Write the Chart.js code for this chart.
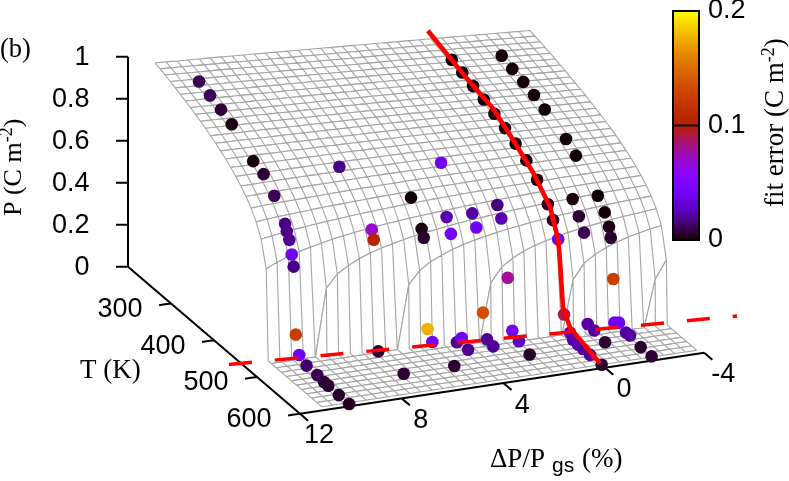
<!DOCTYPE html>
<html>
<head>
<meta charset="utf-8">
<title>P(T, strain) surface</title>
<script src="https://cdn.jsdelivr.net/npm/chart.js@4"></script>
<style>
  html, body { margin: 0; padding: 0; background: #fff; }
  #wrap { position: relative; width: 789px; height: 481px; overflow: hidden; }
  canvas { position: absolute; }
</style>
</head>
<body>
<div id="wrap">
  <canvas id="myChart" width="789" height="481" style="left:0;top:0"></canvas>
  <canvas id="barChart" width="117" height="262" style="left:672px;top:0"></canvas>
</div>
<script>
// fitted surface: one row per temperature, one value per strain
let sheetStrain = [11,10.57,10.13,9.7,9.26,8.83,8.4,7.96,7.53,7.1,6.66,6.23,5.79,5.36,4.93,4.49,4.06,3.63,3.19,2.76,2.32,1.89,1.46,1.02,.59,.16,-.28,-.71,-1.15,-1.58,-2.01,-2.45,-2.88,-3.31,-3.75]
let sheetTemp = [203.75,215.5,227.25,239,250.75,262.5,274.25,286,297.75,309.5,321.25,333,344.75,356.5,368.25,380,391.75,403.5,415.25,427,438.75,450.5,462.25,474,485.75,497.5,509.25,521,532.75,544.5,556.25,568,579.75,591.5]
// temperature where each strain line drops to the floor
let criticalT = [467,468.6,470.3,471.9,473.6,475.2,476.9,478.5,480.2,481.8,483.5,485.1,486.8,488.4,490.1,491.7,493.4,495,496.7,498.3,500,501.6,503.3,504.9,506.6,508.2,509.9,511.5,513.1,514.8,516.4,518.1,519.7,521.4,523]
// rows past the end of this table lie flat on the floor
let sheetP = [
[.959,.956,.952,.949,.946,.943,.940,.936,.933,.930,.926,.923,.920,.916,.913,.910,.906,.903,.900,.896,.893,.889,.886,.883,.879,.876,.872,.869,.865,.862,.858,.855,.851,.848,.844],
[.951,.948,.945,.942,.938,.935,.932,.929,.925,.922,.919,.915,.912,.909,.905,.902,.899,.896,.892,.889,.886,.882,.879,.876,.872,.869,.865,.862,.858,.855,.852,.848,.845,.841,.838],
[.942,.939,.936,.933,.930,.927,.924,.920,.917,.914,.911,.908,.904,.901,.898,.895,.892,.888,.885,.882,.879,.876,.872,.869,.866,.862,.859,.856,.852,.849,.846,.842,.839,.835,.832],
[.932,.929,.926,.923,.920,.917,.914,.911,.908,.905,.902,.899,.896,.892,.889,.886,.883,.880,.877,.874,.871,.868,.864,.861,.858,.855,.852,.849,.845,.842,.839,.835,.832,.828,.825],
[.922,.919,.916,.913,.910,.908,.905,.902,.899,.896,.893,.890,.887,.884,.881,.878,.875,.872,.869,.866,.863,.860,.857,.854,.851,.847,.844,.841,.838,.835,.831,.828,.825,.821,.818],
[.912,.909,.906,.903,.901,.898,.895,.892,.889,.886,.883,.880,.878,.875,.872,.869,.866,.863,.860,.857,.854,.851,.848,.845,.842,.839,.836,.833,.830,.827,.824,.821,.818,.814,.811],
[.901,.898,.896,.893,.890,.888,.885,.882,.879,.877,.874,.871,.868,.865,.863,.860,.857,.854,.851,.848,.845,.842,.840,.836,.834,.831,.828,.825,.822,.819,.815,.812,.809,.806,.803],
[.890,.887,.885,.882,.880,.877,.875,.872,.869,.867,.864,.861,.859,.856,.853,.851,.848,.845,.842,.839,.837,.834,.831,.828,.825,.822,.820,.817,.814,.811,.808,.805,.802,.799,.796],
[.878,.876,.873,.871,.868,.866,.863,.861,.858,.856,.853,.851,.848,.846,.843,.840,.838,.835,.832,.830,.827,.824,.821,.819,.816,.813,.810,.807,.805,.802,.799,.796,.793,.790,.787],
[.866,.864,.861,.859,.857,.855,.852,.850,.847,.845,.843,.840,.838,.835,.833,.830,.828,.825,.822,.820,.817,.815,.812,.809,.807,.804,.801,.799,.796,.793,.790,.787,.785,.782,.779],
[.853,.851,.849,.846,.844,.842,.840,.838,.835,.833,.831,.828,.826,.824,.821,.819,.816,.814,.812,.809,.807,.804,.802,.799,.797,.794,.791,.789,.786,.784,.781,.778,.775,.773,.770],
[.838,.836,.834,.832,.830,.829,.826,.824,.822,.820,.818,.816,.814,.812,.810,.808,.805,.803,.801,.798,.796,.794,.791,.789,.787,.784,.782,.779,.777,.774,.772,.769,.766,.764,.761],
[.823,.821,.820,.818,.816,.814,.813,.811,.809,.807,.805,.803,.801,.799,.797,.795,.793,.791,.789,.787,.785,.782,.780,.778,.776,.773,.771,.768,.766,.764,.761,.759,.756,.754,.751],
[.807,.806,.804,.803,.801,.799,.798,.796,.794,.793,.791,.789,.787,.786,.784,.782,.780,.778,.776,.774,.772,.770,.768,.766,.764,.762,.759,.757,.755,.753,.751,.748,.746,.743,.741],
[.789,.788,.787,.786,.784,.783,.782,.780,.779,.778,.776,.775,.773,.772,.770,.768,.767,.765,.763,.761,.760,.758,.756,.754,.752,.750,.748,.746,.744,.742,.739,.737,.735,.732,.730],
[.769,.768,.768,.767,.766,.765,.764,.763,.762,.761,.760,.759,.757,.756,.755,.753,.752,.750,.748,.747,.745,.743,.742,.740,.739,.737,.735,.733,.731,.729,.727,.725,.723,.721,.719],
[.747,.747,.746,.746,.745,.745,.744,.744,.743,.742,.741,.740,.739,.738,.737,.736,.735,.734,.733,.731,.730,.728,.727,.725,.724,.722,.721,.719,.718,.716,.714,.712,.711,.709,.707],
[.722,.722,.723,.723,.723,.723,.723,.722,.722,.722,.721,.721,.720,.719,.718,.718,.717,.716,.715,.714,.713,.712,.711,.710,.708,.707,.706,.705,.703,.702,.700,.699,.697,.696,.694],
[.693,.694,.695,.696,.697,.697,.698,.698,.698,.698,.699,.699,.699,.699,.698,.698,.697,.697,.696,.696,.695,.694,.693,.692,.692,.691,.690,.689,.687,.686,.685,.683,.682,.680,.679],
[.658,.661,.663,.665,.666,.667,.668,.670,.671,.672,.673,.673,.674,.674,.675,.675,.675,.675,.675,.675,.674,.674,.674,.673,.673,.672,.671,.671,.670,.669,.668,.667,.666,.665,.664],
[.614,.618,.622,.625,.628,.631,.634,.636,.638,.640,.642,.644,.645,.646,.647,.648,.649,.650,.650,.651,.651,.652,.652,.652,.652,.652,.652,.651,.651,.650,.650,.649,.648,.648,.647],
[.551,.559,.567,.573,.579,.584,.589,.593,.597,.601,.604,.607,.610,.613,.615,.617,.619,.620,.622,.623,.624,.625,.626,.627,.627,.628,.628,.629,.629,.629,.629,.629,.629,.628,.628],
[.430,.454,.473,.489,.502,.513,.524,.532,.540,.547,.553,.559,.564,.569,.573,.576,.580,.583,.586,.589,.591,.593,.595,.597,.599,.600,.601,.602,.603,.604,.604,.605,.605,.606,.606],
[0,0,0,0,0,.319,.379,.411,.437,.455,.471,.483,.495,.505,.514,.520,.528,.534,.540,.544,.549,.553,.557,.560,.563,.565,.568,.570,.572,.574,.576,.577,.578,.579,.580],
[0,0,0,0,0,0,0,0,0,0,0,0,.300,.360,.395,.418,.438,.453,.466,.477,.486,.495,.502,.509,.515,.520,.525,.529,.532,.536,.540,.543,.545,.547,.549],
[0,0,0,0,0,0,0,0,0,0,0,0,0,0,0,0,0,0,0,.275,.343,.377,.403,.421,.436,.448,.459,.468,.476,.483,.490,.496,.500,.505,.509],
[0,0,0,0,0,0,0,0,0,0,0,0,0,0,0,0,0,0,0,0,0,0,0,0,0,0,.255,.325,.360,.385,.403,.419,.430,.441,.450],
[0,0,0,0,0,0,0,0,0,0,0,0,0,0,0,0,0,0,0,0,0,0,0,0,0,0,0,0,0,0,0,0,0,.223,.306]
]

// measured points
let dotStrain = [10,10,10,10,10,10,10,10,10,10,10,10,10,10,10,10,10,10,10,10,
  0,0,0,0,0,0,0,0,0,0,0,0,0,0,0,0,0,0,0,
  -2,-2,-2,-2,-2,-2,-2,-2,-2,-2,-2,-2,-2,-2,-2,-2,-2,-2,
  -1,-1,-1,-1,-1,-1,
  7,7,7,7,7, 5,5,5,5,5,5, 4,4,4,4,4, 3,3,3,3,3,3, 2,2,2,2,2,2]
let dotTemp = [247,272.5,298,323,373,397,422,447,451,457,462.5,467,472,480,497,522,537.6,547.6,572,596,
  243.5,268,293,318,342.6,367.4,392,417,442,467,479,491,504.7,518.6,525.6,537,549,565,592,
  241.4,266,291.6,316.5,341.4,391,414,465,481,491,495,501,503.7,514.2,530.5,540,564.7,590,
  465.6,480,492,500.5,515.8,541,
  396,471.2,475.8,486.5,545.6, 444.4,469,474,483,494,545, 468,478,492,503,518, 396,468.6,478,493.5,503,517.4, 467.7,477,492,502.6,518,543]
let dotP = [.928,.906,.883,.857,.769,.749,.69,.6,.571,.541,.481,.431,.116,.033,.012,.011,.005,.005,.003,.003,
  .843,.825,.804,.784,.759,.734,.703,.667,.619,.546,.491,.421,.087,.024,.003,0,0,0,0,
  .822,.802,.785,.766,.741,.687,.648,.546,.495,.444,.399,.213,.01,.028,.009,.012,0,0,
  .55,.493,.436,.016,.012,0,
  .728,.56,.52,.007,.004, .629,.523,.49,.071,.028,.003, .56,.497,.005,.045,.015, .674,.56,.509,.131,.02,.012, .58,.532,.276,.042,.019,0]
let dotErr = [.011,.011,.007,.002,.002,.006,.011,.017,.018,.019,.04,.017,.124,.04,.014,.011,.006,.006,.005,.004,
  .001,.001,.001,.001,.002,.002,.002,.002,.002,.005,.005,.035,.09,.03,.025,.025,.02,.02,.006,
  .001,.001,.001,.001,.001,.001,.001,.001,.001,.003,.006,.124,.04,.04,.022,.022,.006,.006,
  .002,.006,.011,.022,.022,.006,
  .017,.07,.104,.006,.006, .001,.002,.005,.177,.04,.006, .025,.04,.018,.04,.02, .04,.022,.04,.134,.02,.02, .017,.025,.08,.04,.028,.005]

// red curve P(T) at zero strain, and the dashed Tc(strain) line on the floor
let redStrain = 0
let redTemp = [188,279,340,386,433,472,491,495,502,519,588]
let redP = [.884,.815,.778,.711,.636,.543,.419,.331,.119,.048,0]
let tcStrain = [12.45,-6.44]
let tcTemp = [461.4,526.3]

// axes
let pTicks = [0,.2,.4,.6,.8,1]
let pLabels = ["0","0.2","0.4","0.6","0.8","1"]
let tTicks = [300,400,500,600]
let strainTicks = [12,8,4,0,-3.9]
let strainLabels = ["12","8","4","0","-4"]
let errTicks = [0,.1,.2]

// gnuplot view: strain, temperature and P to page coordinates
function project(s, T, P) {
  return {
    x: 300 + (12 - s) * 25.42 + (T - 600) * 0.43,
    y: 413.7 - (12 - s) * 3.83 + (T - 600) * 0.3675 - P * 210
  }
}

// gnuplot's default pm3d palette
function errColor(err) {
  let g = Math.min(err / 0.2, 1)
  let r = Math.sqrt(g)
  let gr = g * g * g
  let b = Math.max(Math.sin(2 * Math.PI * g), 0)
  return "rgb(" + Math.round(r * 255) + "," + Math.round(gr * 255) + "," + Math.round(b * 255) + ")"
}

function rowP(i, j) {
  return sheetP[i] ? sheetP[i][j] : 0
}

const gap = { x: null, y: null }
const grey = "#a4a4a4"
let painted = []

// surface back to front, each strip covers what lies behind it
for (let i = 0; i < sheetTemp.length - 1; i++) {
  let outline = []
  let lines = []
  let T0 = sheetTemp[i], T1 = sheetTemp[i + 1]
  sheetStrain.forEach((s, j) => outline.push(project(s, T0, rowP(i, j))))
  for (let j = sheetStrain.length - 1; j >= 0; j--) outline.push(project(sheetStrain[j], T1, rowP(i + 1, j)))

  sheetStrain.forEach((s, j) => lines.push(project(s, T0, rowP(i, j))))
  lines.push(gap)
  sheetStrain.forEach((s, j) => lines.push(project(s, T1, rowP(i + 1, j))))
  lines.push(gap)
  sheetStrain.forEach((s, j) => {
    lines.push(project(s, T0, rowP(i, j)))
    // wall: the line falls straight to the floor at Tc
    if (rowP(i, j) > 0 && rowP(i + 1, j) == 0) lines.push(project(s, criticalT[j], 0))
    lines.push(project(s, T1, rowP(i + 1, j)))
    lines.push(gap)
  })
  painted.push({ data: outline, sheetFill: true, showLine: false, pointRadius: 0 })
  painted.push({ data: lines, showLine: true, spanGaps: false, borderColor: grey, borderWidth: 1.1, pointRadius: 0, tension: 0.001 })
}

// axis lines and ticks
let axisLines = []
function segment(a, b) { axisLines.push(a, b, gap) }
segment(project(12, 200, 1), project(12, 200, 0))
segment(project(12, 200, 0), project(12, 600, 0))
segment(project(12, 600, 0), project(-3.9, 600, 0))
pTicks.forEach(p => segment(project(12, 200, p), project(12.4, 195.8, p)))
tTicks.forEach(t => segment(project(12, t, 0), project(12.47, t, 0)))
strainTicks.forEach(s => segment(project(s, 600, 0), project(s, 619, 0)))
painted.push({ data: axisLines, showLine: true, spanGaps: false, borderColor: "#000", borderWidth: 2, pointRadius: 0, tension: 0.001 })

painted.push({
  data: dotStrain.map((s, i) => project(s, dotTemp[i], dotP[i])),
  showLine: false, pointRadius: 6.3, pointHoverRadius: 6.3, pointBorderWidth: 0,
  pointBackgroundColor: dotErr.map(errColor)
})

painted.push({
  data: tcStrain.map((s, i) => project(s, tcTemp[i], 0)),
  showLine: true, borderColor: "#ff0000", borderWidth: 3.5, borderDash: [23, 23], pointRadius: 0
})
painted.push({
  data: redTemp.map((t, i) => project(redStrain, t, redP[i])),
  showLine: true, borderColor: "#ff0000", borderWidth: 4.6, pointRadius: 0, borderJoinStyle: "round"
})

const sans = "'Liberation Sans', sans-serif"
const serif = "'Liberation Serif', serif"

function pieces(ctx, x, y, angle, parts) {
  ctx.save()
  ctx.translate(x, y)
  ctx.rotate(angle)
  ctx.textAlign = "left"
  ctx.textBaseline = "alphabetic"
  let at = 0
  parts.forEach(p => {
    ctx.font = p.font
    ctx.fillText(p.text, at, p.dy || 0)
    at += ctx.measureText(p.text).width
  })
  ctx.restore()
}

// white fill under each strip of the surface
const sheetFill = {
  id: "sheetFill",
  beforeDatasetDraw(chart, args) {
    if (!chart.data.datasets[args.index].sheetFill) return
    let ctx = chart.ctx
    ctx.save()
    ctx.beginPath()
    args.meta.data.forEach((pt, k) => k ? ctx.lineTo(pt.x, pt.y) : ctx.moveTo(pt.x, pt.y))
    ctx.closePath()
    ctx.fillStyle = "#fff"
    ctx.fill()
    ctx.restore()
  }
}

const axisText = {
  id: "axisText",
  afterDraw(chart) {
    let ctx = chart.ctx
    let sx = chart.scales.x, sy = chart.scales.y
    function at(q, dx, dy) { return [sx.getPixelForValue(q.x) + dx, sy.getPixelForValue(q.y) + dy] }
    ctx.save()
    ctx.fillStyle = "#000"
    ctx.font = "27px " + sans
    ctx.textBaseline = "middle"
    ctx.textAlign = "right"
    pTicks.forEach((p, i) => {
      let [x, y] = at(project(12, 200, p), -38.5, 1)
      ctx.fillText(pLabels[i], x, y)
    })
    ctx.textAlign = "center"
    tTicks.forEach(t => {
      let [x, y] = at(project(12, t, 0), -51, 6)
      ctx.fillText(String(t), x, y)
    })
    strainTicks.forEach((s, i) => {
      let [x, y] = at(project(s, 600, 0), 19, 22)
      ctx.fillText(strainLabels[i], x, y)
    })
    ctx.restore()
    ctx.fillStyle = "#000"
    let big = "27px " + serif
    pieces(ctx, 0, 57, 0, [{ text: "(b)", font: "26.5px " + serif }])
    pieces(ctx, 80, 378, 0, [{ text: "T (K)", font: big }])
    pieces(ctx, 21, 216, -Math.PI / 2, [
      { text: "P (C m", font: "26px " + serif },
      { text: "-2", font: "18px " + serif, dy: -9 },
      { text: ")", font: "26px " + serif }
    ])
    pieces(ctx, 783, 207, -Math.PI / 2, [
      { text: "fit error (C m", font: big },
      { text: "-2", font: "18px " + serif, dy: -9 },
      { text: ")", font: big }
    ])
    pieces(ctx, 490, 467, 0, [{ text: "ΔP/P", font: big }])
    pieces(ctx, 552, 472, 0, [{ text: "gs", font: "21px " + sans }])
    pieces(ctx, 582, 467, 0, [{ text: "(%)", font: big }])
  }
}

let myChart = new Chart(document.getElementById("myChart").getContext("2d"), {
  type: "scatter",
  data: { datasets: painted.slice().reverse() },   // Chart.js paints the last dataset first
  options: {
    responsive: false,
    animation: false,
    events: [],
    layout: { padding: 0, autoPadding: false },
    scales: {
      x: { type: "linear", min: 0, max: 789, display: false },
      y: { type: "linear", min: 0, max: 481, reverse: true, display: false }
    },
    plugins: { legend: { display: false }, tooltip: { enabled: false } }
  },
  plugins: [sheetFill, axisText]
})

// colour bar
let barBands = []
for (let k = 0; k < 100; k++) {
  let lo = k * 0.002
  barBands.push({ data: [[lo, Math.min(lo + 0.003, 0.2)]], backgroundColor: errColor(lo + 0.001), borderWidth: 0, barPercentage: 1, categoryPercentage: 1, grouped: false, order: 100 - k })
}

const barFrame = {
  id: "barFrame",
  afterDraw(chart) {
    let a = chart.chartArea, ctx = chart.ctx
    let y = chart.scales.y.getPixelForValue(errTicks[1])
    ctx.save()
    ctx.strokeStyle = "#000"
    ctx.lineWidth = 2
    ctx.strokeRect(a.left, a.top, a.right - a.left, a.bottom - a.top)
    ctx.beginPath()
    ctx.moveTo(a.left, y)
    ctx.lineTo(a.right, y)
    ctx.stroke()
    ctx.restore()
  }
}

let barChart = new Chart(document.getElementById("barChart").getContext("2d"), {
  type: "bar",
  data: { labels: ["fit error"], datasets: barBands },
  options: {
    responsive: false,
    animation: false,
    events: [],
    layout: { padding: { top: 11, bottom: 22, left: 1, right: 0 }, autoPadding: false },
    scales: {
      x: { display: false },
      y: {
        position: "right", min: 0, max: 0.2,
        grid: { display: false, drawTicks: false },
        border: { display: false },
        afterBuildTicks: s => { s.ticks = errTicks.map(v => ({ value: v })) },
        afterFit: s => { s.width = 90; s.paddingTop = 0; s.paddingBottom = 0 },
        ticks: {
          color: "#000", padding: 9, autoSkip: false, maxRotation: 0,
          font: { family: "'Liberation Sans', sans-serif", size: 27 },
          callback: v => v == 0 ? "0" : v.toFixed(1)
        }
      }
    },
    plugins: { legend: { display: false }, tooltip: { enabled: false } }
  },
  plugins: [barFrame]
})
</script>
</body>
</html>
